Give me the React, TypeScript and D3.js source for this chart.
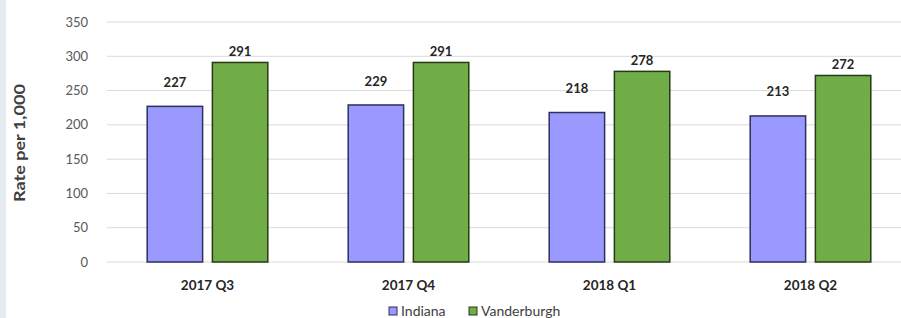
import { useEffect, useRef } from "react"
import * as d3 from "d3"

const categories = ["2017 Q3", "2017 Q4", "2018 Q1", "2018 Q2"]
const seriesNames = ["Indiana", "Vanderburgh"]
const indiana = [227, 229, 218, 213]
const vanderburgh = [291, 291, 278, 272]
const yTicks = [0, 50, 100, 150, 200, 250, 300, 350]

const fills = ["#9999ff", "#70ad47"]
const strokes = ["#2f2f5c", "#263a17"]

export default function App() {
  const svgRef = useRef<SVGSVGElement>(null)

  useEffect(() => {
    if (!svgRef.current) return
    const width = 901
    const height = 318
    const svg = d3.select(svgRef.current)
    svg.selectAll("*").remove()
    svg.style("font-family", "Lato, 'Open Sans', sans-serif")

    // light strip on the left edge
    svg.append("rect").attr("x", 0).attr("y", 0).attr("width", 6).attr("height", height).attr("fill", "#e4ecf2")

    const y = d3.scaleLinear().domain([0, 350]).range([262, 22])
    const x0 = d3.scaleBand().domain(categories).range([107, 911]).paddingInner(0.4).paddingOuter(0.2)
    const x1 = d3.scaleBand().domain(seriesNames).range([0, x0.bandwidth()]).paddingInner(0.15)

    // grid
    svg
      .append("g")
      .selectAll("line")
      .data(yTicks)
      .enter()
      .append("line")
      .attr("x1", 107)
      .attr("x2", width)
      .attr("y1", (d) => y(d))
      .attr("y2", (d) => y(d))
      .attr("stroke", "#d9d9d9")
      .attr("stroke-width", 1)

    svg
      .append("g")
      .selectAll("text")
      .data(yTicks)
      .enter()
      .append("text")
      .attr("x", 88)
      .attr("y", (d) => y(d))
      .attr("dy", "0.35em")
      .attr("text-anchor", "end")
      .style("font-size", "13px")
      .style("fill", "#595959")
      .text((d) => d)

    // y title
    svg
      .append("text")
      .attr("transform", `translate(25, 143) rotate(-90)`)
      .attr("text-anchor", "middle")
      .attr("textLength", 118)
      .attr("lengthAdjust", "spacingAndGlyphs")
      .style("font-size", "15px")
      .style("font-weight", "700")
      .style("fill", "#404040")
      .text("Rate per 1,000")

    const rows = categories.map((c, i) => ({ c, vals: [indiana[i], vanderburgh[i]] }))
    const labelOffset = [24, 11]

    rows.forEach((row) => {
      const g = svg.append("g").attr("transform", `translate(${x0(row.c)},0)`)
      row.vals.forEach((v, j) => {
        const name = seriesNames[j]
        g.append("rect")
          .attr("x", x1(name)!)
          .attr("y", y(v))
          .attr("width", x1.bandwidth())
          .attr("height", y(0) - y(v))
          .attr("fill", fills[j])
          .attr("stroke", strokes[j])
          .attr("stroke-width", 1.5)
        g.append("text")
          .attr("x", x1(name)! + x1.bandwidth() / 2)
          .attr("y", y(v) - labelOffset[j])
          .attr("dy", "0.35em")
          .attr("text-anchor", "middle")
          .style("font-size", "13px")
          .style("font-weight", "700")
          .style("fill", "#262626")
          .text(v)
      })
      svg
        .append("text")
        .attr("x", x0(row.c)! + x0.bandwidth() / 2)
        .attr("y", 285)
        .attr("dy", "0.35em")
        .attr("text-anchor", "middle")
        .style("font-size", "13.5px")
        .style("font-weight", "700")
        .style("fill", "#262626")
        .text(row.c)
    })

    // legend
    const legendX = [389, 469]
    seriesNames.forEach((name, j) => {
      svg
        .append("rect")
        .attr("x", legendX[j])
        .attr("y", 307)
        .attr("width", 8)
        .attr("height", 8)
        .attr("fill", fills[j])
        .attr("stroke", strokes[j])
        .attr("stroke-width", 1)
      svg
        .append("text")
        .attr("x", legendX[j] + 12)
        .attr("y", 311)
        .attr("dy", "0.35em")
        .style("font-size", "14px")
        .style("fill", "#404040")
        .text(name)
    })
  }, [])

  return (
    <div style={{ position: "absolute", left: 0, top: 0 }}>
      <svg ref={svgRef} width={901} height={318} style={{ display: "block", background: "#fff" }} />
    </div>
  )
}
